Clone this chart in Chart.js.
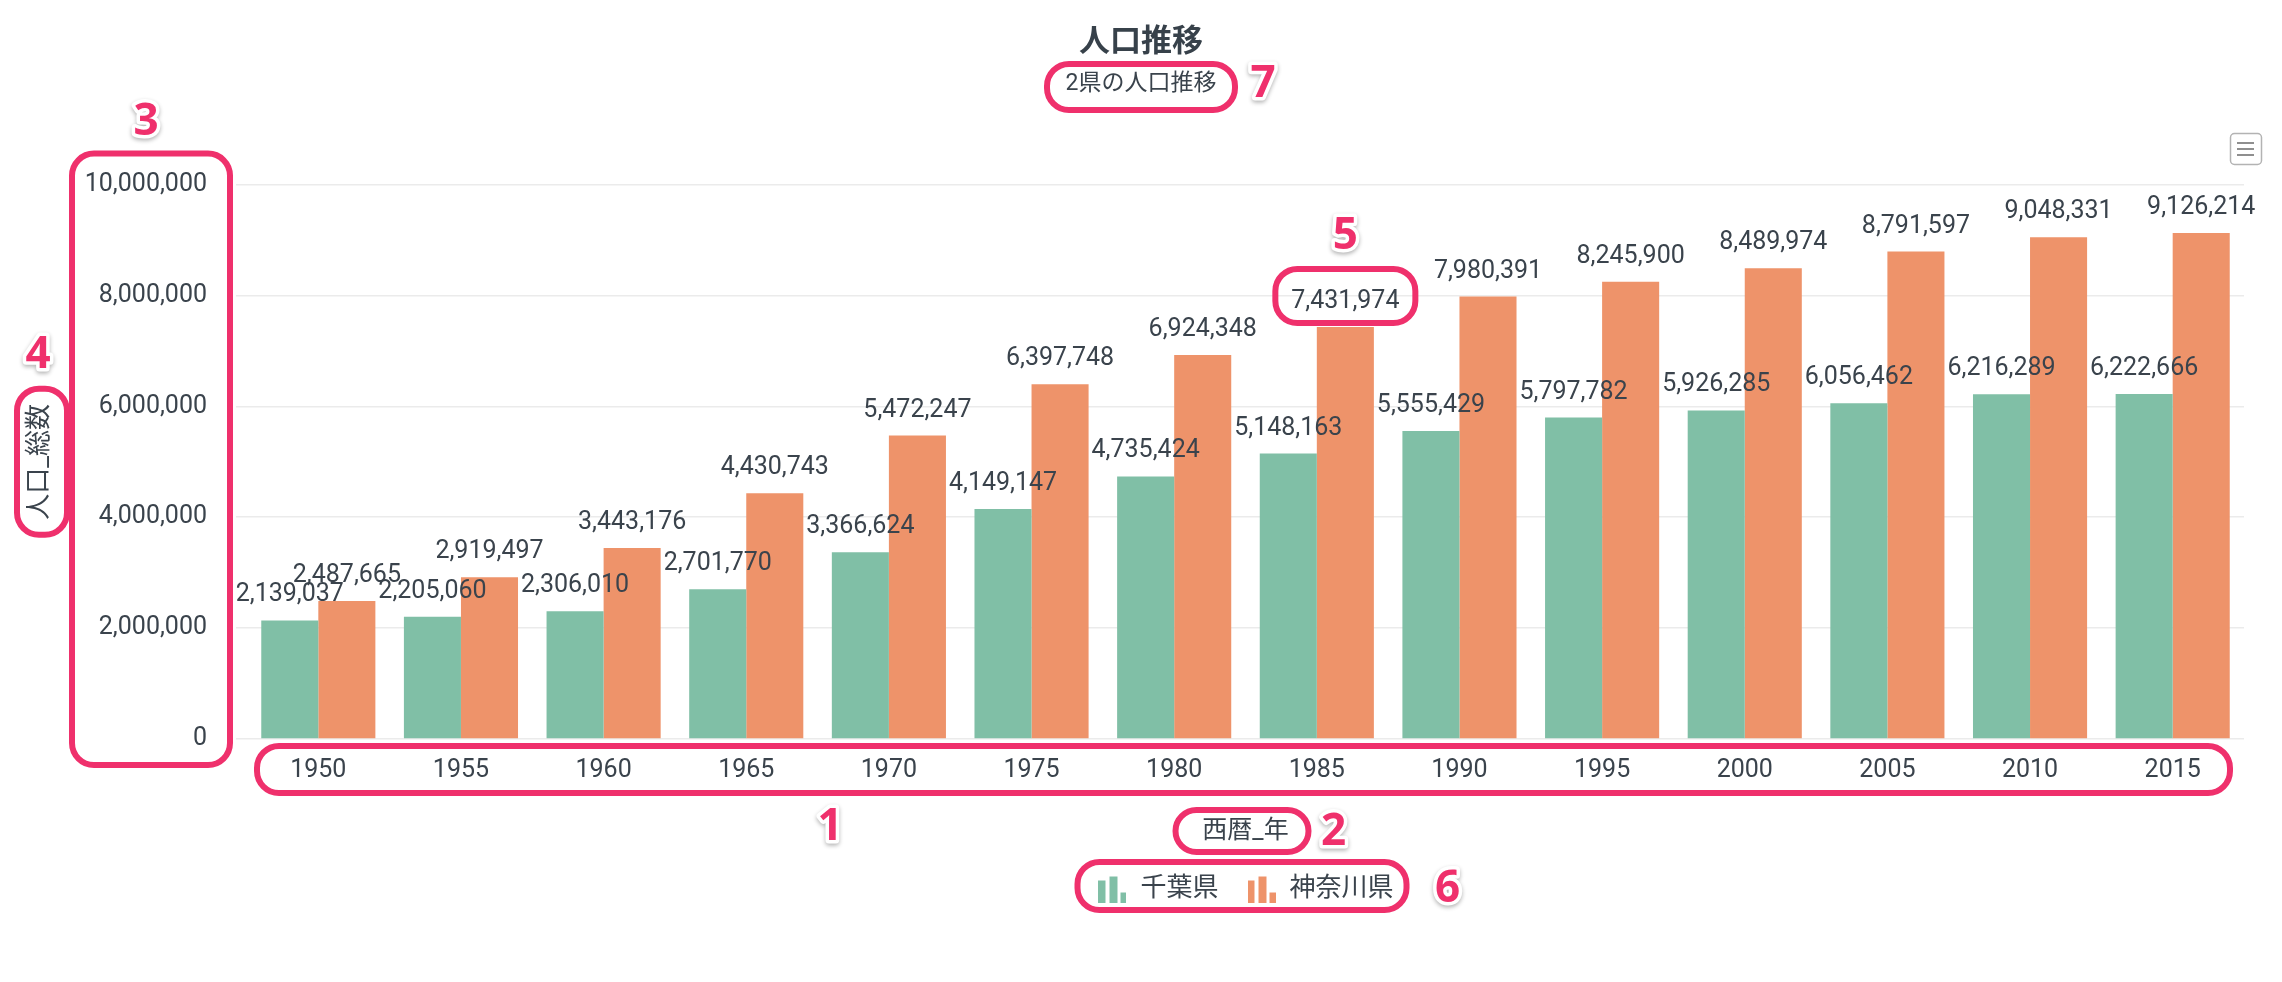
<!DOCTYPE html>
<html lang="ja">
<head>
<meta charset="utf-8">
<title>人口推移</title>
<script src="https://cdn.jsdelivr.net/npm/chart.js@4.4.1/dist/chart.umd.min.js"></script>
<style>
    html, body { margin: 0; padding: 0; background: #ffffff; }
    canvas { display: block; }
</style>
</head>
<body>
<canvas id="popChart" width="2282" height="982"></canvas>
<script>
"use strict";

// ---- data ----
const years = ["1950", "1955", "1960", "1965", "1970", "1975", "1980", "1985", "1990", "1995", "2000", "2005", "2010", "2015"];
const chiba = [2139037, 2205060, 2306010, 2701770, 3366624, 4149147, 4735424, 5148163, 5555429, 5797782, 5926285, 6056462, 6216289, 6222666];
const kanagawa = [2487665, 2919497, 3443176, 4430743, 5472247, 6397748, 6924348, 7431974, 7980391, 8245900, 8489974, 8791597, 9048331, 9126214];
const seriesNames = ["千葉県", "神奈川県"];
const yTicks = [0, 2000000, 4000000, 6000000, 8000000, 10000000];

const GREEN = '#80bfa6';
const ORANGE = '#ee936a';
const TEXT = '#3a434c';
const PINK = '#ef306c';
const FONT = "Roboto, 'Noto Sans CJK JP', sans-serif";

// small "bar chart" glyphs for the legend
function makeLegendIcon(color) {
    const c = document.createElement('canvas');
    c.width = 28;
    c.height = 27;
    const g = c.getContext('2d');
    g.fillStyle = color;
    g.fillRect(0, 5, 7, 22);
    g.fillRect(11, 1, 8, 26);
    g.fillRect(22, 17, 6, 10);
    return c;
}
const legendIcons = [makeLegendIcon(GREEN), makeLegendIcon(ORANGE)];

// value labels above each bar
const barLabels = {
    id: 'barLabels',
    afterDatasetsDraw(chart) {
        const ctx = chart.ctx;
        ctx.save();
        ctx.font = '25px ' + FONT;
        ctx.fillStyle = TEXT;
        ctx.textAlign = 'center';
        ctx.textBaseline = 'alphabetic';
        chart.data.datasets.forEach((ds, di) => {
            chart.getDatasetMeta(di).data.forEach((bar, i) => {
                ctx.fillText(ds.data[i].toLocaleString('en-US'), bar.x, bar.y - 19);
            });
        });
        ctx.restore();
    }
};

// titles centred on the whole canvas, legend centred under the plot area
const boxShift = {
    id: 'boxShift',
    afterLayout(chart) {
        chart.boxes.forEach(b => {
            if (b.options && typeof b.options.text === 'string') {
                b.left = 0;
                b.right = chart.width;
            }
        });
        chart.legend.left = chart.chartArea.left;
        chart.legend.right = chart.chartArea.right;
    }
};

// export-menu button and the pink callouts drawn over the chart
function roundBox(ctx, x0, y0, x1, y1) {
    const r = Math.min(22, (y1 - y0) / 2, (x1 - x0) / 2);
    ctx.beginPath();
    ctx.roundRect(x0, y0, x1 - x0, y1 - y0, r);
    ctx.stroke();
}
function calloutNumber(ctx, text, x, y) {
    ctx.save();
    ctx.font = "bold 44px 'Open Sans', 'DejaVu Sans', sans-serif";
    ctx.textAlign = 'center';
    ctx.textBaseline = 'middle';
    ctx.shadowColor = 'rgba(0,0,0,0.3)';
    ctx.shadowBlur = 4;
    ctx.shadowOffsetY = 2;
    ctx.lineJoin = 'round';
    ctx.lineWidth = 7;
    ctx.strokeStyle = '#ffffff';
    ctx.strokeText(text, x, y);
    ctx.shadowColor = 'transparent';
    ctx.fillStyle = PINK;
    ctx.fillText(text, x, y);
    ctx.restore();
}
const overlay = {
    id: 'overlay',
    afterDraw(chart) {
        const ctx = chart.ctx;
        const a = chart.chartArea;
        const midX = (a.left + a.right) / 2;
        const midY = (a.top + a.bottom) / 2;

        // menu button
        ctx.save();
        ctx.strokeStyle = '#b3b3b3';
        ctx.lineWidth = 1.5;
        ctx.beginPath();
        ctx.roundRect(2230.5, 133.5, 31, 31, 4);
        ctx.stroke();
        ctx.strokeStyle = '#8f8f8f';
        ctx.lineWidth = 2;
        [143, 149, 155].forEach(yy => {
            ctx.beginPath();
            ctx.moveTo(2237, yy);
            ctx.lineTo(2254, yy);
            ctx.stroke();
        });
        ctx.restore();

        // callout boxes
        const hl = chart.getDatasetMeta(1).data[7];
        ctx.save();
        ctx.strokeStyle = PINK;
        ctx.lineWidth = 6;
        roundBox(ctx, chart.width / 2 - 94, 64, chart.width / 2 + 94, 110);          // 7 subtitle
        roundBox(ctx, 72, a.top - 31, 230, a.bottom + 26);                          // 3 y ticks
        roundBox(ctx, 17, midY - 73, 67, midY + 73);                                // 4 y title
        roundBox(ctx, a.left + 10, a.bottom + 7, a.right - 14, a.bottom + 54);      // 1 x ticks
        roundBox(ctx, hl.x - 70, hl.y - 58, hl.x + 70, hl.y - 4);                   // 5 data label
        roundBox(ctx, midX - 70, 810, midX + 63, 852);                              // 2 x title
        roundBox(ctx, midX - 168, 862, midX + 161, 910);                            // 6 legend
        ctx.restore();

        calloutNumber(ctx, '1', 830, 827);
        calloutNumber(ctx, '2', midX + 88, 832);
        calloutNumber(ctx, '3', 146, 122);
        calloutNumber(ctx, '4', 38, 355);
        calloutNumber(ctx, '5', hl.x, hl.y - 91);
        calloutNumber(ctx, '6', midX + 202, 889);
        calloutNumber(ctx, '7', chart.width / 2 + 122, 84);
    }
};

const ctx = document.getElementById('popChart');
new Chart(ctx, {
    type: 'bar',
    data: {
        labels: years,
        datasets: [
            { label: seriesNames[0], data: chiba, backgroundColor: GREEN, borderWidth: 0 },
            { label: seriesNames[1], data: kanagawa, backgroundColor: ORANGE, borderWidth: 0 }
        ]
    },
    options: {
        responsive: false,
        devicePixelRatio: 1,
        animation: false,
        events: [],
        datasets: {
            bar: { categoryPercentage: 0.8, barPercentage: 1.0 }
        },
        layout: {
            padding: { top: 0, right: 38, bottom: 70, left: 0 }
        },
        plugins: {
            title: {
                display: true,
                text: '人口推移',
                color: '#37414a',
                font: { family: FONT, size: 31, weight: 'bold' },
                padding: { top: 24.4, bottom: 0 }
            },
            subtitle: {
                display: true,
                text: '2県の人口推移',
                color: TEXT,
                font: { family: FONT, size: 23 },
                padding: { top: 9, bottom: 86.4 }
            },
            legend: {
                display: true,
                position: 'bottom',
                labels: {
                    usePointStyle: true,
                    pointStyleWidth: 30,
                    padding: 28,
                    color: TEXT,
                    font: { family: FONT, size: 26 },
                    generateLabels: function(chart) {
                        const items = Chart.defaults.plugins.legend.labels.generateLabels(chart);
                        items.forEach((it, i) => { it.pointStyle = legendIcons[i]; });
                        return items;
                    }
                }
            },
            tooltip: { enabled: false }
        },
        scales: {
            x: {
                grid: { display: false, drawTicks: false },
                border: { display: false },
                ticks: {
                    color: TEXT,
                    font: { family: FONT, size: 25 },
                    padding: 17,
                    maxRotation: 0
                },
                title: {
                    display: true,
                    text: '西暦_年',
                    color: TEXT,
                    font: { family: FONT, size: 25 },
                    padding: { top: 14, bottom: 1 }
                }
            },
            y: {
                min: 0,
                max: yTicks[yTicks.length - 1],
                afterFit: function(scale) { scale.width = 247; },
                afterBuildTicks: function(scale) {
                    scale.ticks = yTicks.map(v => ({ value: v }));
                },
                grid: { color: '#ebebeb', lineWidth: 1.5, drawTicks: true, tickLength: 11, tickColor: '#ebebeb' },
                border: { display: false },
                ticks: {
                    color: TEXT,
                    font: { family: FONT, size: 25 },
                    padding: 29,
                    callback: function(value) { return value.toLocaleString('en-US'); }
                },
                title: {
                    display: true,
                    text: '人口_総数',
                    color: TEXT,
                    font: { family: FONT, size: 26 },
                    padding: { top: 24.4, bottom: 0 }
                }
            }
        }
    },
    plugins: [barLabels, boxShift, overlay]
});
</script>
</body>
</html>
